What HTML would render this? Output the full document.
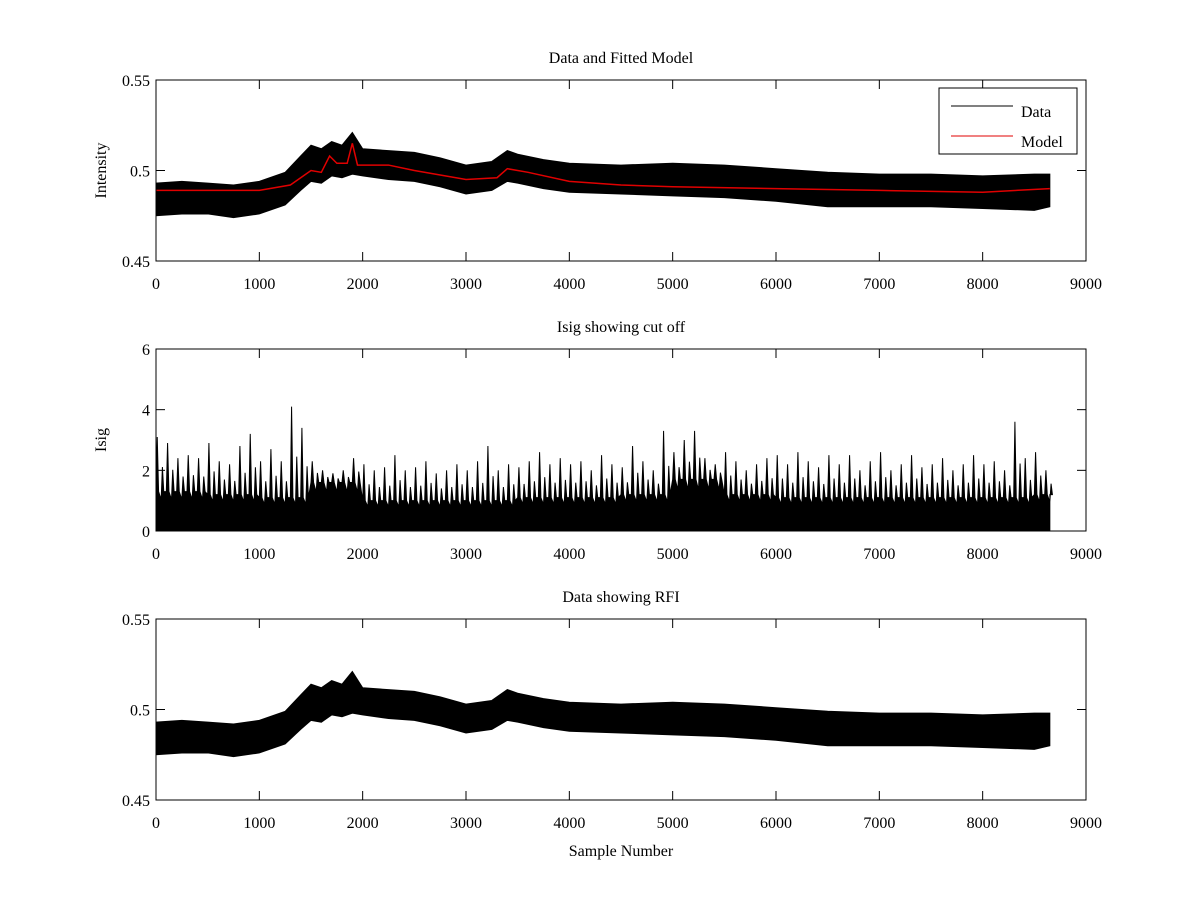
<!DOCTYPE html>
<html><head><meta charset="utf-8">
<style>
html,body{margin:0;padding:0;background:#fff;}
svg text{font-family:"Liberation Serif",serif;font-size:16px;fill:#000;}
</style></head>
<body>
<svg id="fig" width="1200" height="900" viewBox="0 0 1200 900" xmlns="http://www.w3.org/2000/svg"></svg>
<script>
// ---- data (estimated from reference) ----
const dataX =    [0,250,500,750,1000,1250,1400,1500,1600,1700,1800,1900,2000,2250,2500,2750,3000,3250,3400,3500,3750,4000,4500,5000,5500,6000,6500,7000,7500,8000,8500,8650];
const dataUpper =[0.493,0.494,0.493,0.492,0.494,0.499,0.508,0.514,0.512,0.516,0.514,0.521,0.512,0.511,0.510,0.507,0.503,0.505,0.511,0.509,0.506,0.504,0.503,0.504,0.503,0.501,0.499,0.498,0.498,0.497,0.498,0.498];
const dataLower =[0.475,0.476,0.476,0.474,0.476,0.481,0.489,0.494,0.493,0.497,0.496,0.498,0.497,0.495,0.494,0.491,0.487,0.489,0.494,0.493,0.490,0.488,0.487,0.486,0.485,0.483,0.480,0.480,0.480,0.479,0.478,0.480];
const modelX =   [0,1000,1300,1500,1600,1680,1750,1850,1900,1950,2250,2500,3000,3300,3400,3600,4000,4500,5000,6000,7000,8000,8650];
const modelY =   [0.489,0.489,0.492,0.500,0.499,0.508,0.504,0.504,0.515,0.503,0.503,0.500,0.495,0.496,0.501,0.499,0.494,0.492,0.491,0.490,0.489,0.488,0.490];
const isigPeaks =[3.1,2.9,2.4,2.5,2.4,2.9,2.3,2.2,2.8,3.2,2.3,2.7,2.3,4.1,3.4,2.3,2.0,1.9,2.0,2.4,2.2,2.0,2.1,2.5,2.0,2.1,2.3,1.9,2.0,2.2,2.0,2.3,2.8,2.0,2.2,2.1,2.3,2.6,2.2,2.4,2.2,2.3,2.0,2.5,2.2,2.1,2.8,2.3,2.0,3.3,2.6,3.0,3.3,2.4,2.2,2.6,2.3,2.0,2.2,2.4,2.5,2.2,2.6,2.3,2.1,2.5,2.2,2.5,2.0,2.3,2.6,2.0,2.2,2.5,2.1,2.2,2.4,2.0,2.2,2.5,2.2,2.3,2.0,3.6,2.4,2.6,2.0];
const isigDense = [1.3,1.2,1.1,1.6,1.0,1.0,1.0,1.1,1.1,1.2,1.7,1.2,1.1,1.1,1.1,1.1,1.1,1.2];
const xTicks = [0,1000,2000,3000,4000,5000,6000,7000,8000,9000];
const yTicksIntensity = [0.45,0.5,0.55];
const yTickLabelsIntensity = ["0.45","0.5","0.55"];
const yTicksIsig = [0,2,4,6];

const NS="http://www.w3.org/2000/svg";
const svg=document.getElementById('fig');
function mk(tag,attrs,parent){const e=document.createElementNS(NS,tag);for(const k in attrs)e.setAttribute(k,attrs[k]);(parent||svg).appendChild(e);return e;}
const L=156,R=1086;
function sx(v){return L+(v-0)/(9000)*(R-L);}
const panels=[
 {top:80,bot:261,ymin:0.45,ymax:0.55,title:"Data and Fitted Model",ylab:"Intensity",name:"panel-fit"},
 {top:349,bot:531,ymin:0,ymax:6,title:"Isig showing cut off",ylab:"Isig",name:"panel-isig"},
 {top:619,bot:800,ymin:0.45,ymax:0.55,title:"Data showing RFI",ylab:"",name:"panel-rfi"}
];
function syF(p){return v=>p.bot-(v-p.ymin)/(p.ymax-p.ymin)*(p.bot-p.top);}

function band(p,g){
  const sy=syF(p);let pts=[];
  dataX.forEach((x,i)=>pts.push(sx(x)+','+sy(dataUpper[i])));
  for(let i=dataX.length-1;i>=0;i--)pts.push(sx(dataX[i])+','+sy(dataLower[i]));
  const e=mk('polygon',{points:pts.join(' '),fill:'#000',stroke:'#000','stroke-width':1},g);
  
  
}

panels.forEach((p,pi)=>{
  const g=mk('g',{});
  
  
  const sy=syF(p);
  mk('rect',{x:L,y:p.top,width:R-L,height:p.bot-p.top,fill:'#fff',stroke:'none'},g);
  if(pi===0||pi===2) band(p,g);
  if(pi===0){
    const pts=modelX.map((x,i)=>sx(x)+','+sy(modelY[i])).join(' ');
    const m=mk('polyline',{points:pts,fill:'none',stroke:'#e00000','stroke-width':1.5},g);
    
    
  }
  if(pi===1){
    let pts=[sx(0)+','+sy(0)];
    isigPeaks.forEach((v,i)=>{const x=i*100;const d=isigDense[Math.min(isigDense.length-1,Math.floor(x/500))];
      pts.push(sx(x)+','+sy(d));pts.push(sx(x+12)+','+sy(v));pts.push(sx(x+25)+','+sy(d));
      pts.push(sx(x+50)+','+sy(d*0.8));pts.push(sx(x+62)+','+sy(d+(v-d)*0.45));pts.push(sx(x+75)+','+sy(d));});
    pts.push(sx(8650)+','+sy(isigDense[isigDense.length-1]));
    pts.push(sx(8650)+','+sy(0));
    const e=mk('polygon',{points:pts.join(' '),fill:'#000',stroke:'#000','stroke-width':1},g);
    
    
  }
  mk('rect',{x:L,y:p.top,width:R-L,height:p.bot-p.top,fill:'none',stroke:'#000','stroke-width':1},g);
  xTicks.forEach(t=>{const x=sx(t);
    mk('line',{x1:x,x2:x,y1:p.bot,y2:p.bot-9,stroke:'#000'},g);
    mk('line',{x1:x,x2:x,y1:p.top,y2:p.top+9,stroke:'#000'},g);
    const tx=mk('text',{x:x,y:p.bot+28,'text-anchor':'middle'},g);tx.textContent=t;
    
    
  });
  const yt=pi===1?yTicksIsig:yTicksIntensity;
  yt.forEach((t,i)=>{const y=sy(t);
    mk('line',{x1:L,x2:L+9,y1:y,y2:y,stroke:'#000'},g);
    mk('line',{x1:R,x2:R-9,y1:y,y2:y,stroke:'#000'},g);
    const tx=mk('text',{x:L-6,y:y+6,'text-anchor':'end'},g);
    tx.textContent=pi===1?t:yTickLabelsIntensity[i];
    
    
  });
  const ti=mk('text',{x:(L+R)/2,y:p.top-17,'text-anchor':'middle'},g);ti.textContent=p.title;
  
  
  if(p.ylab){const yl=mk('text',{x:0,y:0,'text-anchor':'middle',transform:`translate(106,${(p.top+p.bot)/2}) rotate(-90)`},g);yl.textContent=p.ylab;
    
    }
});
const xl=mk('text',{x:(L+R)/2,y:856,'text-anchor':'middle'});xl.textContent="Sample Number";


// legend
const lg=mk('g',{});


mk('rect',{x:939,y:88,width:138,height:66,fill:'#fff',stroke:'#000'},lg);
mk('line',{x1:951,x2:1013,y1:106,y2:106,stroke:'#000'},lg);
mk('line',{x1:951,x2:1013,y1:136,y2:136,stroke:'#e00000'},lg);
const t1=mk('text',{x:1021,y:117},lg);t1.textContent="Data";


const t2=mk('text',{x:1021,y:147},lg);t2.textContent="Model";


</script>
</body></html>
